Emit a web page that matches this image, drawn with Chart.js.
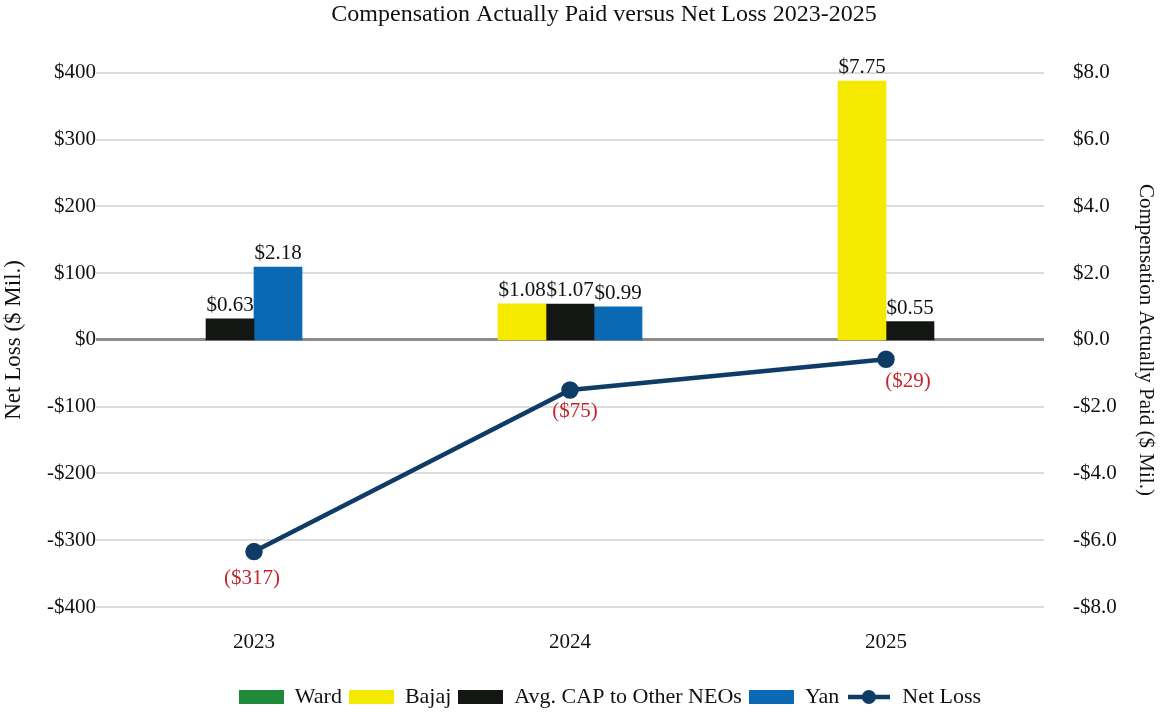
<!DOCTYPE html>
<html>
<head>
<meta charset="utf-8">
<script src="https://cdn.jsdelivr.net/npm/chart.js@4.4.1/dist/chart.umd.min.js"></script>
<style>
  html, body { margin: 0; padding: 0; background: #fff; }
  #chart-one { display: block; }
</style>
</head>
<body>
<canvas id="chart-one" width="1160" height="712"></canvas>
<script>
// datos
const years = ["2023", "2024", "2025"];
const ward = [null, null, null];
const bajaj = [null, 1.08, 7.75];
const avgCap = [0.63, 1.07, 0.55];
const yan = [2.18, 0.99, null];
const netLoss = [-317, -75, -29];

const leftTicks = [-400, -300, -200, -100, 0, 100, 200, 300, 400];
const rightTicks = [-8, -6, -4, -2, 0, 2, 4, 6, 8];

// desplazamiento de las etiquetas rojas (como en el original)
const lossLabelDx = [-2, 5, 22];
const lossLabelDy = [27, 22, 22];

const FONT = "'Liberation Serif', 'Times New Roman', serif";
const COLORS = ['#1f8a3a', '#f6e900', '#141614', '#0b68b2', '#0e3c66'];

function swatch(color, w, h) {
    const c = document.createElement('canvas');
    c.width = w; c.height = h;
    const g = c.getContext('2d');
    g.fillStyle = color;
    g.fillRect(0, 0, w, h);
    return c;
}

function lineSwatch(color) {
    const c = document.createElement('canvas');
    c.width = 42; c.height = 16;
    const g = c.getContext('2d');
    g.strokeStyle = color;
    g.lineWidth = 4.5;
    g.beginPath(); g.moveTo(0, 8); g.lineTo(42, 8); g.stroke();
    g.fillStyle = color;
    g.beginPath(); g.arc(21, 8, 7, 0, Math.PI * 2); g.fill();
    return c;
}

const legendIcons = [
    swatch(COLORS[0], 45, 14),
    swatch(COLORS[1], 45, 14),
    swatch(COLORS[2], 45, 14),
    swatch(COLORS[3], 45, 14),
    lineSwatch(COLORS[4])
];

// el titulo y la leyenda del original no estan centrados
const shiftBlocks = {
    id: 'shiftBlocks',
    afterLayout(chart) {
        chart.titleBlock.left += 24; chart.titleBlock.right += 24;
        chart.legend.left += 30; chart.legend.right += 30;
    }
};

// etiquetas de valores
const valueLabels = {
    id: 'valueLabels',
    afterDatasetsDraw(chart) {
        const ctx = chart.ctx;
        ctx.save();
        ctx.font = "21px " + FONT;
        ctx.textAlign = 'center';
        chart.data.datasets.forEach((ds, i) => {
            const meta = chart.getDatasetMeta(i);
            if (meta.hidden) return;
            meta.data.forEach((el, j) => {
                const v = ds.data[j];
                if (v === null || v === undefined) return;
                if (ds.type === 'line') {
                    ctx.fillStyle = '#c3262e';
                    ctx.textBaseline = 'middle';
                    ctx.fillText('($' + Math.abs(v) + ')', el.x + lossLabelDx[j], el.y + lossLabelDy[j]);
                } else {
                    ctx.fillStyle = '#111';
                    ctx.textBaseline = 'alphabetic';
                    ctx.fillText('$' + v.toFixed(2), el.x, el.y - 8);
                }
            });
        });
        ctx.restore();
    }
};

const ctx = document.getElementById('chart-one');

const chart = new Chart(ctx, {
    data: {
        labels: years,
        datasets: [
            { type: 'bar', label: 'Ward', data: ward, backgroundColor: COLORS[0], yAxisID: 'y1' },
            { type: 'bar', label: 'Bajaj', data: bajaj, backgroundColor: COLORS[1], yAxisID: 'y1' },
            { type: 'bar', label: 'Avg. CAP to Other NEOs', data: avgCap, backgroundColor: COLORS[2], yAxisID: 'y1' },
            { type: 'bar', label: 'Yan', data: yan, backgroundColor: COLORS[3], yAxisID: 'y1' },
            { type: 'line', label: 'Net Loss', data: netLoss, borderColor: COLORS[4], backgroundColor: COLORS[4],
              borderWidth: 4.5, pointRadius: 6.5, pointHoverRadius: 6.5, yAxisID: 'y' }
        ]
    },
    options: {
        responsive: false,
        animation: false,
        datasets: { bar: { barThickness: 48, skipNull: true } },
        layout: { padding: { left: 0, right: 0, top: 0, bottom: -6 } },
        plugins: {
            title: {
                display: true,
                text: 'Compensation Actually Paid versus Net Loss 2023-2025',
                color: '#111',
                font: { family: FONT, size: 24, weight: 'normal' },
                padding: { top: 0, bottom: 44 }
            },
            legend: {
                position: 'bottom',
                labels: {
                    color: '#111',
                    font: { family: FONT, size: 22 },
                    usePointStyle: true,
                    pointStyleWidth: 45,
                    boxHeight: 14,
                    padding: 7,
                    generateLabels: (chart) => {
                        const items = Chart.defaults.plugins.legend.labels.generateLabels(chart);
                        items.forEach(it => { it.pointStyle = legendIcons[it.datasetIndex]; });
                        return items;
                    }
                }
            },
            tooltip: { enabled: false }
        },
        scales: {
            x: {
                grid: { display: false, drawTicks: false },
                border: { display: false },
                ticks: { color: '#111', font: { family: FONT, size: 21 }, padding: 23 },
                afterFit: (axis) => { axis.height = 72; }
            },
            y: {
                position: 'left',
                min: -400, max: 400,
                afterBuildTicks: (axis) => { axis.ticks = leftTicks.map(v => ({ value: v })); },
                afterFit: (axis) => { axis.width = 96; },
                border: { display: false },
                grid: {
                    color: (c) => c.tick && c.tick.value === 0 ? '#8c8c8c' : '#dcdcdc',
                    lineWidth: (c) => c.tick && c.tick.value === 0 ? 3 : 2,
                    drawTicks: false
                },
                ticks: {
                    color: '#111',
                    font: { family: FONT, size: 21 },
                    padding: 0,
                    callback: (v) => (v < 0 ? '-' : '') + '$' + Math.abs(v)
                },
                title: {
                    display: true,
                    text: 'Net Loss ($ Mil.)',
                    color: '#111',
                    font: { family: FONT, size: 23 },
                    padding: { top: 0, bottom: 17 }
                }
            },
            y1: {
                position: 'right',
                min: -8, max: 8,
                afterBuildTicks: (axis) => { axis.ticks = rightTicks.map(v => ({ value: v })); },
                afterFit: (axis) => { axis.width = 116; },
                border: { display: false },
                grid: { display: false, drawTicks: false },
                ticks: {
                    color: '#111',
                    font: { family: FONT, size: 21 },
                    padding: 29,
                    callback: (v) => (v < 0 ? '-' : '') + '$' + Math.abs(v).toFixed(1)
                },
                title: {
                    display: true,
                    text: 'Compensation Actually Paid ($ Mil.)',
                    color: '#111',
                    font: { family: FONT, size: 21 },
                    padding: { top: 2, bottom: 15 }
                }
            }
        }
    },
    plugins: [valueLabels, shiftBlocks]
});
</script>
</body>
</html>
